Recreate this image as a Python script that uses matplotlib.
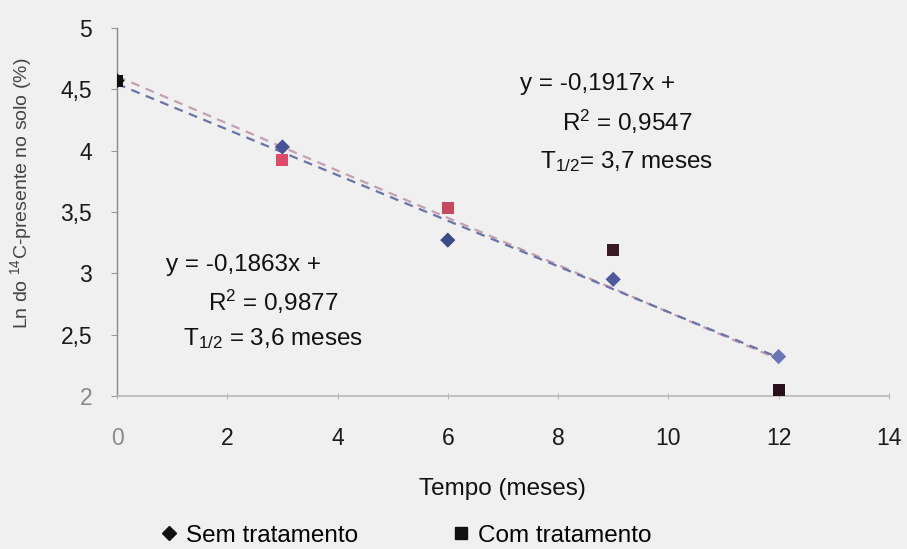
import numpy as np
import matplotlib
matplotlib.use("Agg")
import matplotlib.pyplot as plt
from matplotlib.lines import Line2D

# Tempo de incubação (meses) e Ln do 14C remanescente no solo
tempo = [0, 3, 6, 9, 12]
sem_tratamento = [4.57, 4.03, 3.27, 2.95, 2.32]
com_tratamento = [4.57, 3.92, 3.53, 3.19, 2.05]

x_ticks = [0, 2, 4, 6, 8, 10, 12, 14]
y_ticks = [2, 2.5, 3, 3.5, 4, 4.5, 5]
y_tick_labels = ["2", "2,5", "3", "3,5", "4", "4,5", "5"]

eq_com = ["y = -0,1917x +", "R$^2$ = 0,9547", "T$_{1/2}$= 3,7 meses"]
eq_sem = ["y = -0,1863x +", "R$^2$ = 0,9877", "T$_{1/2}$ = 3,6 meses"]

plt.rcParams["font.family"] = ["Liberation Sans", "DejaVu Sans"]
plt.rcParams["mathtext.fontset"] = "custom"
plt.rcParams["mathtext.rm"] = "Liberation Sans"
plt.rcParams["mathtext.it"] = "Liberation Sans:italic"

bg = "#f0f0f0"
fig = plt.figure(figsize=(9.07, 5.49), dpi=100, facecolor=bg)
ax = fig.add_axes([0.129, 0.279, 0.851, 0.670], facecolor=bg)

# linhas de tendência (regressão linear de cada série)
xs = np.array(tempo, dtype=float)
for serie, cor in ((com_tratamento, "#c4a0b4"), (sem_tratamento, "#6a74a8")):
    a, b = np.polyfit(xs, serie, 1)
    ax.plot(xs, a * xs + b, ls=(0, (4, 3)), lw=1.6, color=cor, zorder=2)

cores_sem = ["#111111", "#4a5494", "#3e4a86", "#4e5a9c", "#6a76b6"]
cores_com = ["#111111", "#e04a6a", "#c84a62", "#3a1a26", "#2a0e1c"]
ax.scatter(tempo, com_tratamento, marker="s", s=75, c=cores_com, zorder=3, linewidths=0)
ax.scatter(tempo, sem_tratamento, marker="D", s=60, c=cores_sem, zorder=4, linewidths=0)

ax.set_xlim(0, 14)
ax.set_ylim(2, 5)
ax.set_xticks(x_ticks)
ax.set_yticks(y_ticks)
ax.set_yticklabels(y_tick_labels)

for s in ("top", "right"):
    ax.spines[s].set_visible(False)
ax.spines["left"].set_color("#8a8a8a")
ax.spines["left"].set_linewidth(1.0)
ax.spines["bottom"].set_color("#b8b8b8")
ax.spines["bottom"].set_linewidth(1.2)

ax.tick_params(axis="y", direction="out", length=4, width=0.8, color="#999999",
               labelsize=16.5, pad=14, labelcolor="#1a1a1a")
ax.tick_params(axis="x", direction="inout", length=5, width=0.8, color="#bbbbbb",
               labelsize=16.5, pad=20, labelcolor="#1a1a1a")
ax.get_xticklabels()[0].set_color("#8a8a8a")
ax.get_yticklabels()[0].set_color("#8a8a8a")

ax.set_xlabel("Tempo (meses)", fontsize=17.5, labelpad=20, color="#111111")
ax.set_ylabel(r"Ln do $^{14}$C-presente no solo (%)", fontsize=14, color="#444444")
ax.yaxis.set_label_coords(-0.108, 0.55)

# equações das retas
tk = dict(transform=ax.transAxes, fontsize=17.5, color="#111111", va="center", ha="left")
ax.text(0.522, 0.848, eq_com[0], **tk)
ax.text(0.576, 0.745, eq_com[1], **tk)
ax.text(0.548, 0.636, eq_com[2], **tk)
ax.text(0.064, 0.356, eq_sem[0], **tk)
ax.text(0.118, 0.255, eq_sem[1], **tk)
ax.text(0.085, 0.155, eq_sem[2], **tk)

handles = [
    Line2D([], [], marker="D", ls="none", color="#111111", markersize=7),
    Line2D([], [], marker="s", ls="none", color="#111111", markersize=8),
]
fig.legend(handles, ["Sem tratamento", "Com tratamento"], loc="lower center",
           bbox_to_anchor=(0.447, -0.036), ncol=2, frameon=False, fontsize=17.5,
           handletextpad=0.3, columnspacing=3.8, handlelength=0.8)

fig.savefig("out.png", dpi=100, facecolor=bg)
